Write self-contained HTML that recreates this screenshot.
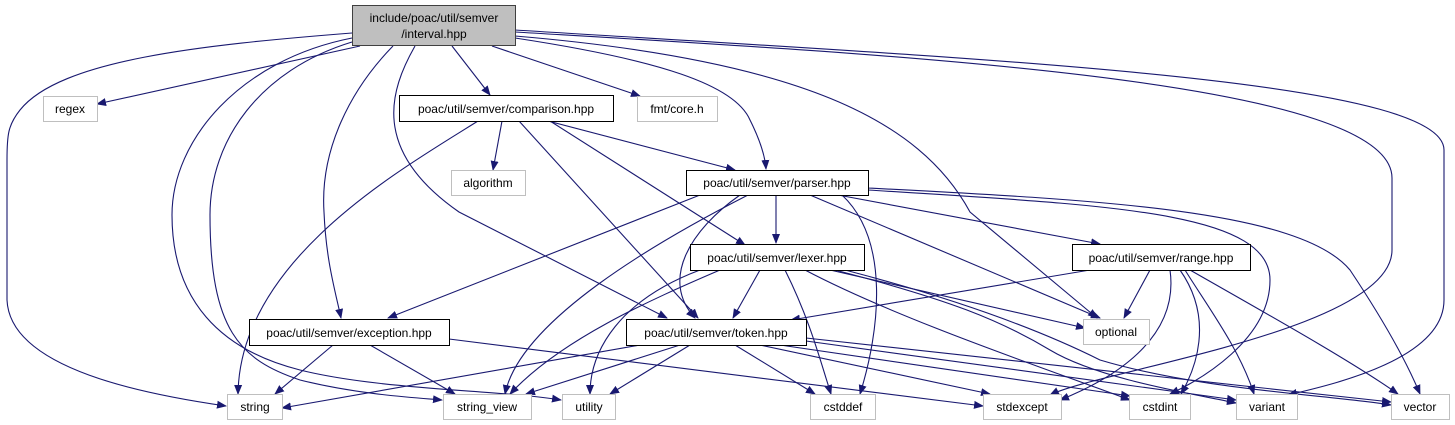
<!DOCTYPE html>
<html><head><meta charset="utf-8"><style>
html,body{margin:0;padding:0;background:#fff;}
svg{display:block;}
text{font-family:"Liberation Sans",sans-serif;font-size:12px;fill:#000;}
</style></head><body>
<svg width="1455" height="425" viewBox="0 0 1455 425" xmlns="http://www.w3.org/2000/svg">
<defs>
<marker id="a" viewBox="0 0 10 10" refX="9" refY="5" markerWidth="10" markerHeight="10" markerUnits="userSpaceOnUse" orient="auto">
<path d="M0,1 L10,5 L0,9 z" fill="#191970"/>
</marker>
</defs>
<g fill="none" stroke="#191970" stroke-width="1.1" marker-end="url(#a)">
<path d="M352,33 C200,45 60,60 20,110 C8,125 7,135 7,160 L7,300 C10,370 150,395 226,406"/>
<path d="M360,46 L97,104"/>
<path d="M352,38 C240,60 172,140 172,215 C172,300 220,350 300,370 C380,390 500,390 561,400"/>
<path d="M352,42 C260,70 210,140 210,215 C210,330 240,360 300,380 C360,395 420,398 442,400"/>
<path d="M393,46 C350,90 320,150 324,212 C326,260 335,290 341,318"/>
<path d="M415,46 C390,90 370,150 459,212 L667,318"/>
<path d="M452,46 L490,95"/>
<path d="M492,46 L640,96"/>
<path d="M515,38 C660,60 735,85 750,120 C760,140 765,155 766,169"/>
<path d="M515,36 C800,60 920,120 970,212 L1097,318"/>
<path d="M515,32 C900,55 1392,80 1392,178 L1392,250 C1392,330 1100,370 1050,395"/>
<path d="M515,30 C1000,60 1444,80 1444,150 L1444,300 C1444,360 1330,385 1288,395"/>
<path d="M502,121 L493,170"/>
<path d="M548,121 L735,170"/>
<path d="M550,121 L745,245"/>
<path d="M519,121 L698,318"/>
<path d="M478,121 C400,170 240,260 238,394"/>
<path d="M776,195 L776,243"/>
<path d="M700,195 L388,318"/>
<path d="M740,195 C690,230 660,280 695,318"/>
<path d="M748,195 C660,240 520,320 505,394"/>
<path d="M842,195 C890,240 880,330 860,394"/>
<path d="M810,195 L1100,318"/>
<path d="M838,195 L1100,244"/>
<path d="M868,190 C1100,205 1270,210 1270,280 C1270,340 1200,380 1170,394"/>
<path d="M868,188 C1100,200 1300,210 1350,270 C1390,330 1410,370 1420,394"/>
<path d="M760,270 L733,318"/>
<path d="M720,270 C650,300 560,340 510,394"/>
<path d="M700,270 C620,300 590,350 590,394"/>
<path d="M785,270 C810,320 820,360 831,394"/>
<path d="M830,270 L1085,328"/>
<path d="M805,270 C900,320 1050,370 1130,400"/>
<path d="M835,270 C950,300 1000,320 1050,350 C1100,380 1200,395 1236,403"/>
<path d="M845,270 C960,300 1040,330 1100,360 C1200,390 1330,395 1391,405"/>
<path d="M1090,270 L791,320"/>
<path d="M1150,270 L1124,318"/>
<path d="M1170,270 C1180,340 1110,380 1060,400"/>
<path d="M1180,270 C1215,320 1195,370 1181,394"/>
<path d="M1185,270 C1210,310 1240,350 1254,394"/>
<path d="M1190,270 C1260,310 1350,360 1398,394"/>
<path d="M333,345 L275,394"/>
<path d="M370,345 L455,394"/>
<path d="M449,339 L983,406"/>
<path d="M640,345 L282,408"/>
<path d="M680,345 L526,394"/>
<path d="M690,345 L610,394"/>
<path d="M735,345 L815,394"/>
<path d="M760,345 L990,394"/>
<path d="M780,345 L1130,396"/>
<path d="M806,341 L1236,400"/>
<path d="M806,338 L1391,402"/>
</g>
<g stroke-width="1">
<rect x="352.5" y="5.5" width="163" height="40" fill="#bfbfbf" stroke="#404040"/>
<text x="434" y="22" text-anchor="middle">include/poac/util/semver</text>
<text x="434" y="38" text-anchor="middle">/interval.hpp</text>
<g fill="#fff" stroke="#bfbfbf">
<rect x="43.5" y="96.5" width="54" height="25"/>
<rect x="637.5" y="96.5" width="80" height="25"/>
<rect x="451.5" y="170.5" width="74" height="25"/>
<rect x="1083.5" y="319.5" width="66" height="25"/>
<rect x="227.5" y="394.5" width="55" height="25"/>
<rect x="443.5" y="394.5" width="88" height="25"/>
<rect x="562.5" y="394.5" width="53" height="25"/>
<rect x="810.5" y="394.5" width="65" height="25"/>
<rect x="983.5" y="394.5" width="78" height="25"/>
<rect x="1129.5" y="394.5" width="61" height="25"/>
<rect x="1236.5" y="394.5" width="61" height="25"/>
<rect x="1391.5" y="394.5" width="58" height="25"/>
</g>
<g fill="#fff" stroke="#000">
<rect x="399.5" y="95.5" width="214" height="26"/>
<rect x="686.5" y="170.5" width="182" height="25"/>
<rect x="690.5" y="244.5" width="174" height="26"/>
<rect x="1072.5" y="244.5" width="178" height="26"/>
<rect x="249.5" y="319.5" width="200" height="26"/>
<rect x="626.5" y="319.5" width="180" height="26"/>
</g>
</g>
<g text-anchor="middle">
<text x="70" y="113">regex</text>
<text x="677" y="113">fmt/core.h</text>
<text x="488" y="187">algorithm</text>
<text x="1116" y="336">optional</text>
<text x="255" y="411">string</text>
<text x="487" y="411">string_view</text>
<text x="589" y="411">utility</text>
<text x="843" y="411">cstddef</text>
<text x="1022" y="411">stdexcept</text>
<text x="1160" y="411">cstdint</text>
<text x="1267" y="411">variant</text>
<text x="1420" y="411">vector</text>
<text x="506" y="113">poac/util/semver/comparison.hpp</text>
<text x="777" y="187">poac/util/semver/parser.hpp</text>
<text x="777" y="262">poac/util/semver/lexer.hpp</text>
<text x="1161" y="262">poac/util/semver/range.hpp</text>
<text x="349" y="337">poac/util/semver/exception.hpp</text>
<text x="716" y="337">poac/util/semver/token.hpp</text>
</g>
</svg>
</body></html>
